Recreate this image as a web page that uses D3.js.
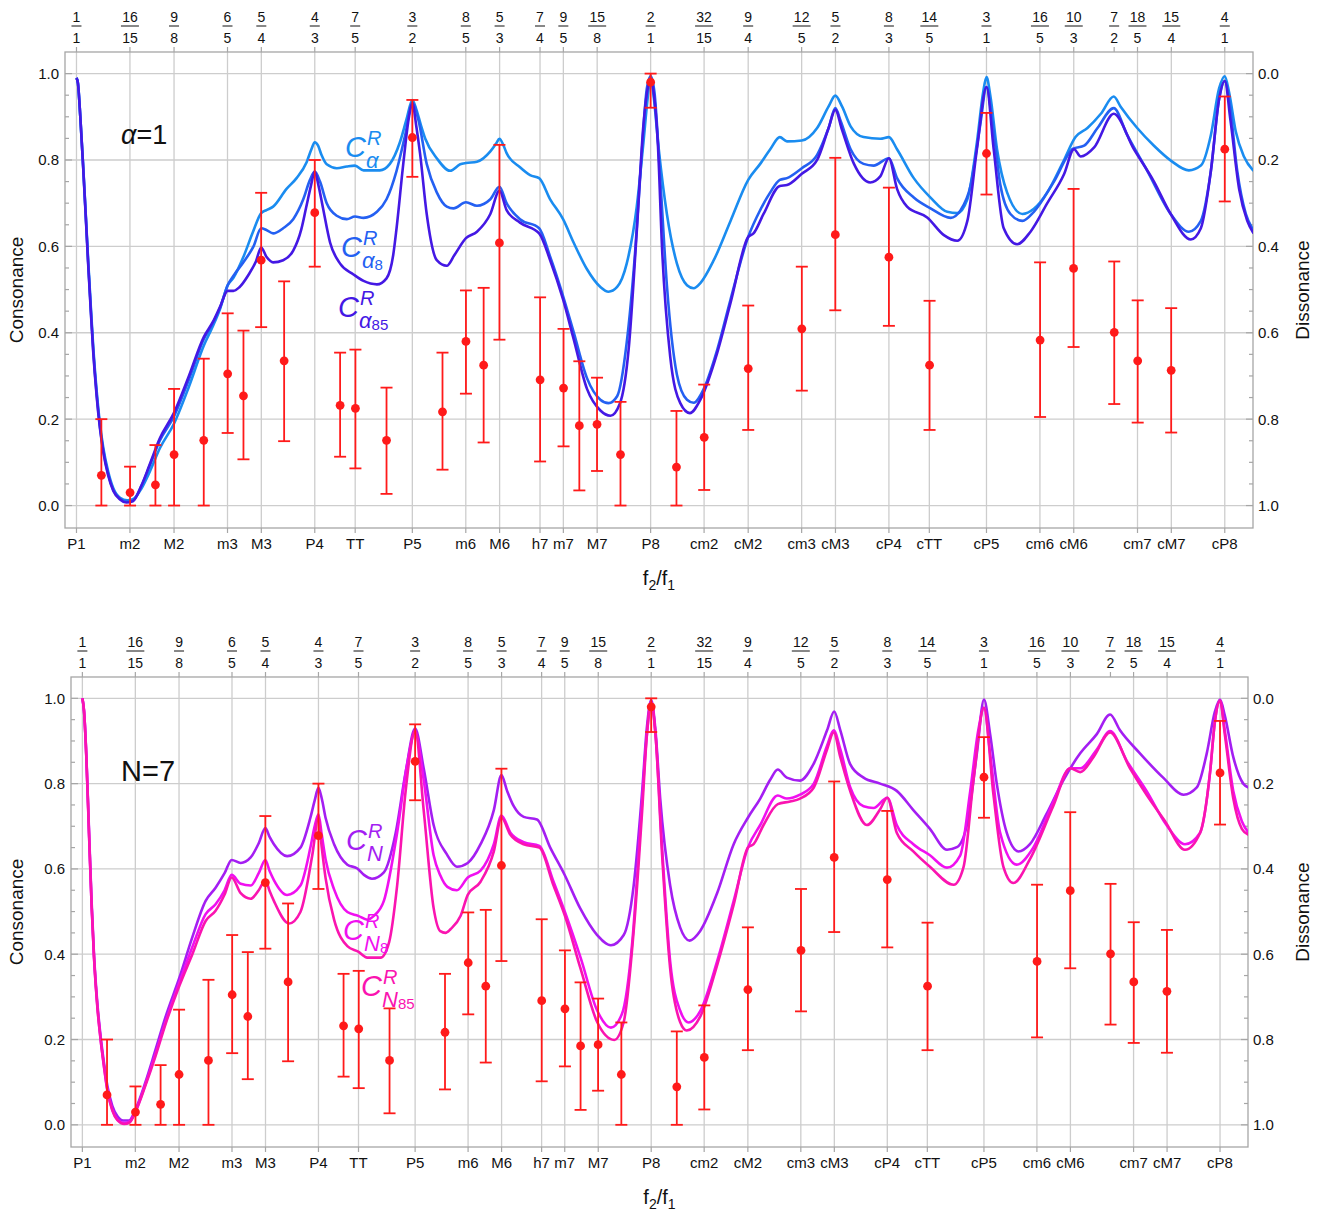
<!DOCTYPE html>
<html>
<head>
<meta charset="utf-8">
<script src="https://cdn.jsdelivr.net/npm/d3@7"></script>
<style>
  body { margin: 0; background: #fff; }
  svg { display: block; }
  text { font-family: "Liberation Sans", Arial, sans-serif; fill: #111; }
</style>
</head>
<body>
<svg id="chart" width="1322" height="1216"></svg>
<script>
// Frequency ratios marked along the top, and interval names along the bottom
const ratioTicks = ["1/1","16/15","9/8","6/5","5/4","4/3","7/5","3/2","8/5","5/3","7/4","9/5","15/8","2/1",
  "32/15","9/4","12/5","5/2","8/3","14/5","3/1","16/5","10/3","7/2","18/5","15/4","4/1"];
const intervalNames = ["P1","m2","M2","m3","M3","P4","TT","P5","m6","M6","h7","m7","M7","P8",
  "cm2","cM2","cm3","cM3","cP4","cTT","cP5","cm6","cM6","","cm7","cM7","cP8"];

// Experimental ratings (interval size in cents, mean, lower and upper bar)
const expCents = [52,112,165,204,266,316,349,386,434,498,551,583,648,702,765,814,851,884,969,1018,1051,1088,1137,1200,
  1254,1312,1404,1516,1586,1698,1783,1902,2014,2084,2169,2218,2288,2400];
const expMean = [0.070,0.030,0.048,0.118,0.151,0.305,0.254,0.568,0.335,0.678,0.232,0.225,0.151,0.852,0.217,0.380,0.325,
  0.608,0.291,0.272,0.185,0.188,0.118,0.980,0.089,0.158,0.317,0.409,0.627,0.575,0.325,0.815,0.383,0.549,0.401,0.335,0.313,0.825];
const expLow = [0,0,0,0,0,0.168,0.107,0.413,0.149,0.553,0.113,0.086,0.027,0.761,0.083,0.259,0.146,0.384,0.102,0.137,
  0.035,0.080,0,0.921,0,0.036,0.175,0.266,0.452,0.416,0.175,0.720,0.205,0.367,0.235,0.192,0.169,0.704];
const expHigh = [0.200,0.090,0.140,0.270,0.340,0.445,0.405,0.724,0.519,0.800,0.354,0.361,0.273,0.939,0.354,0.498,0.504,
  0.835,0.482,0.409,0.334,0.296,0.240,1.0,0.219,0.280,0.463,0.553,0.805,0.736,0.474,0.909,0.563,0.733,0.565,0.475,0.457,0.947];

// Model curves, top panel (alpha = 1): [cents, consonance]
const cAlpha = [[0,0.99],[3,0.978],[8,0.90],[14,0.786],[19.5,0.672],[24.5,0.566],[30,0.46],[35,0.368],[42,0.268],[49,0.19],
  [56,0.134],[66,0.08],[77,0.04],[91,0.018],[106,0.012],[120,0.016],[136,0.04],[153,0.078],[174,0.132],[204,0.19],[235,0.275],
  [266,0.37],[285,0.415],[300,0.455],[316,0.51],[328,0.527],[349,0.576],[369,0.634],[386,0.677],[397,0.684],[411,0.692],
  [439,0.733],[460,0.758],[481,0.795],[491,0.825],[498,0.841],[505,0.833],[512,0.812],[523,0.79],[544,0.781],[565,0.785],
  [582,0.787],[600,0.776],[634,0.776],[655,0.791],[676,0.841],[690,0.895],[702,0.939],[711,0.915],[720,0.88],[729,0.849],
  [753,0.804],[781,0.775],[802,0.79],[814,0.793],[837,0.796],[865,0.82],[877,0.838],[884,0.849],[892,0.835],[899,0.816],
  [927,0.783],[948,0.765],[967,0.758],[990,0.709],[1017,0.663],[1039,0.609],[1067,0.547],[1095,0.506],[1112,0.495],
  [1130,0.506],[1150,0.56],[1171,0.692],[1185,0.841],[1194,0.945],[1200,0.994],[1206,0.95],[1217,0.825],[1234,0.675],
  [1255,0.56],[1276,0.51],[1290,0.503],[1304,0.515],[1332,0.568],[1367,0.659],[1404,0.754],[1429,0.791],[1450,0.825],
  [1470,0.853],[1485,0.843],[1516,0.845],[1548,0.874],[1572,0.924],[1586,0.949],[1600,0.924],[1618,0.878],[1645,0.853],
  [1680,0.849],[1698,0.853],[1715,0.825],[1750,0.758],[1785,0.713],[1820,0.68],[1841,0.677],[1862,0.709],[1882,0.841],
  [1895,0.957],[1902,0.992],[1910,0.949],[1924,0.825],[1945,0.725],[1977,0.675],[2001,0.687],[2029,0.725],[2064,0.80],
  [2088,0.853],[2113,0.874],[2141,0.907],[2168,0.947],[2182,0.924],[2217,0.874],[2252,0.833],[2288,0.798],[2325,0.776],
  [2350,0.787],[2371,0.858],[2388,0.965],[2400,0.994],[2409,0.957],[2423,0.866],[2440,0.808],[2460,0.775]];

const cAlpha8 = [[0,0.99],[3,0.978],[8,0.90],[14,0.784],[19.5,0.669],[24.5,0.561],[30,0.453],[35,0.36],[42,0.26],[49,0.183],
  [56,0.128],[66,0.074],[77,0.036],[91,0.016],[104,0.009],[118,0.012],[136,0.046],[153,0.092],[174,0.15],[204,0.207],
  [235,0.292],[266,0.385],[285,0.422],[300,0.458],[316,0.51],[330,0.535],[350,0.565],[370,0.60],[386,0.642],[397,0.638],
  [411,0.63],[432,0.642],[453,0.663],[474,0.709],[488,0.754],[498,0.773],[509,0.75],[523,0.70],[544,0.671],[565,0.663],
  [582,0.669],[600,0.666],[628,0.68],[648,0.709],[669,0.775],[687,0.858],[702,0.932],[715,0.891],[732,0.791],[753,0.725],
  [774,0.692],[788,0.688],[814,0.702],[837,0.694],[865,0.709],[884,0.738],[899,0.70],[927,0.663],[967,0.642],[990,0.576],
  [1017,0.485],[1039,0.402],[1067,0.295],[1095,0.245],[1112,0.237],[1130,0.253],[1150,0.377],[1168,0.593],[1182,0.825],
  [1192,0.965],[1200,0.994],[1208,0.957],[1220,0.758],[1234,0.51],[1255,0.303],[1276,0.245],[1290,0.238],[1311,0.27],
  [1339,0.36],[1367,0.477],[1404,0.622],[1429,0.684],[1450,0.725],[1470,0.754],[1485,0.758],[1516,0.781],[1548,0.812],
  [1572,0.874],[1586,0.92],[1597,0.891],[1618,0.825],[1645,0.791],[1666,0.787],[1698,0.804],[1715,0.758],[1750,0.713],
  [1785,0.688],[1827,0.666],[1848,0.684],[1869,0.742],[1889,0.882],[1902,0.969],[1914,0.891],[1931,0.742],[1952,0.675],
  [1977,0.659],[2001,0.68],[2043,0.75],[2083,0.826],[2106,0.833],[2134,0.874],[2168,0.92],[2196,0.858],[2238,0.775],
  [2287,0.675],[2325,0.634],[2350,0.659],[2371,0.775],[2388,0.94],[2400,0.983],[2411,0.924],[2426,0.775],[2444,0.675],
  [2460,0.638]];

const cAlpha85 = [[0,0.99],[3,0.978],[8,0.90],[14,0.782],[19.5,0.666],[24.5,0.557],[30,0.448],[35,0.355],[42,0.255],
  [49,0.179],[56,0.124],[66,0.071],[77,0.034],[91,0.014],[104,0.007],[118,0.01],[136,0.047],[153,0.095],[174,0.155],
  [204,0.215],[235,0.30],[266,0.39],[285,0.425],[300,0.46],[316,0.497],[328,0.497],[340,0.505],[360,0.535],[375,0.565],
  [386,0.597],[397,0.576],[411,0.563],[432,0.568],[453,0.59],[470,0.64],[480,0.69],[490,0.74],[498,0.773],[506,0.74],
  [515,0.69],[530,0.609],[551,0.56],[579,0.535],[600,0.52],[628,0.512],[648,0.526],[662,0.58],[669,0.642],[683,0.791],
  [695,0.9],[702,0.932],[710,0.88],[718,0.816],[732,0.675],[753,0.568],[774,0.555],[790,0.58],[814,0.619],[837,0.634],
  [865,0.675],[884,0.729],[899,0.684],[927,0.655],[967,0.63],[990,0.568],[1017,0.477],[1039,0.386],[1067,0.27],
  [1095,0.22],[1116,0.208],[1136,0.237],[1154,0.361],[1171,0.634],[1185,0.882],[1193,0.96],[1200,0.986],[1207,0.95],
  [1215,0.84],[1224,0.593],[1241,0.344],[1262,0.237],[1282,0.214],[1304,0.245],[1339,0.353],[1367,0.469],[1404,0.622],
  [1415,0.63],[1436,0.675],[1470,0.74],[1485,0.742],[1516,0.768],[1548,0.80],[1572,0.874],[1586,0.916],[1600,0.87],
  [1625,0.791],[1659,0.748],[1680,0.762],[1698,0.804],[1715,0.733],[1736,0.692],[1778,0.667],[1813,0.626],[1841,0.613],
  [1862,0.659],[1882,0.825],[1902,0.969],[1917,0.825],[1938,0.642],[1966,0.605],[1994,0.634],[2029,0.70],[2064,0.767],
  [2085,0.825],[2099,0.808],[2127,0.829],[2168,0.907],[2210,0.825],[2252,0.75],[2287,0.675],[2329,0.616],[2350,0.642],
  [2371,0.775],[2388,0.94],[2400,0.983],[2412,0.891],[2430,0.733],[2447,0.659],[2460,0.63]];

// Model curves, bottom panel (N = 7)
const cN = [[0,1.0],[3.5,0.97],[8.4,0.865],[14,0.69],[19.6,0.52],[24.5,0.40],[31.6,0.285],[38.6,0.206],[45.6,0.145],
  [52.6,0.092],[63,0.045],[74,0.02],[86,0.01],[98,0.01],[112,0.036],[133,0.10],[154,0.175],[176,0.255],[205,0.346],
  [232,0.44],[260,0.525],[281,0.556],[300,0.59],[315,0.621],[334,0.614],[355,0.627],[372,0.66],[386,0.696],[395,0.675],
  [404,0.658],[432,0.63],[460,0.65],[481,0.72],[490,0.76],[498,0.79],[505,0.765],[513,0.72],[531,0.658],[559,0.61],
  [580,0.601],[594,0.586],[611,0.577],[636,0.592],[661,0.685],[682,0.827],[702,0.929],[720,0.836],[741,0.703],[769,0.634],
  [790,0.605],[813,0.614],[840,0.658],[868,0.738],[884,0.82],[896,0.783],[910,0.747],[931,0.722],[959,0.716],[987,0.65],
  [1017,0.587],[1050,0.508],[1086,0.445],[1115,0.421],[1142,0.445],[1163,0.561],[1181,0.783],[1191,0.933],[1200,0.996],
  [1209,0.925],[1219,0.765],[1240,0.561],[1261,0.463],[1281,0.432],[1303,0.454],[1339,0.543],[1374,0.658],[1404,0.72],
  [1430,0.765],[1451,0.809],[1467,0.833],[1486,0.814],[1514,0.807],[1542,0.845],[1571,0.925],[1586,0.969],[1599,0.925],
  [1620,0.845],[1648,0.814],[1683,0.80],[1718,0.783],[1753,0.738],[1788,0.694],[1824,0.645],[1845,0.651],[1866,0.703],
  [1887,0.871],[1902,0.997],[1915,0.916],[1929,0.80],[1950,0.685],[1975,0.641],[1999,0.658],[2034,0.729],[2070,0.809],
  [2105,0.871],[2140,0.916],[2168,0.962],[2189,0.925],[2231,0.871],[2280,0.814],[2323,0.774],[2351,0.791],[2372,0.871],
  [2389,0.968],[2400,0.997],[2410,0.96],[2428,0.862],[2449,0.80],[2460,0.791]];

const cN8 = [[0,1.0],[3.5,0.97],[8.4,0.862],[14,0.684],[19.6,0.512],[24.5,0.394],[31.6,0.278],[38.6,0.2],[45.6,0.138],
  [52.6,0.083],[63,0.036],[74,0.012],[88,0.004],[100,0.008],[112,0.032],[133,0.095],[154,0.165],[176,0.243],[205,0.335],
  [232,0.417],[260,0.494],[281,0.517],[300,0.55],[315,0.586],[334,0.565],[355,0.561],[372,0.59],[386,0.621],[395,0.595],
  [404,0.574],[432,0.539],[460,0.561],[481,0.65],[490,0.70],[498,0.728],[505,0.68],[513,0.623],[531,0.552],[559,0.499],
  [582,0.49],[601,0.481],[615,0.49],[636,0.525],[664,0.685],[685,0.845],[702,0.92],[720,0.809],[741,0.632],[755,0.585],
  [770,0.558],[790,0.55],[813,0.58],[840,0.596],[868,0.658],[884,0.725],[903,0.685],[931,0.663],[964,0.654],[994,0.57],
  [1018,0.499],[1051,0.392],[1086,0.268],[1115,0.228],[1138,0.259],[1160,0.428],[1177,0.694],[1191,0.916],[1200,0.991],
  [1209,0.916],[1223,0.65],[1240,0.383],[1261,0.268],[1279,0.24],[1304,0.268],[1339,0.383],[1374,0.525],[1404,0.65],
  [1430,0.703],[1467,0.772],[1486,0.765],[1514,0.774],[1543,0.80],[1571,0.889],[1585,0.925],[1599,0.88],[1620,0.791],
  [1648,0.747],[1669,0.743],[1698,0.767],[1718,0.703],[1753,0.658],[1788,0.632],[1824,0.603],[1852,0.632],[1873,0.782],
  [1890,0.925],[1902,0.978],[1915,0.871],[1936,0.685],[1971,0.61],[2006,0.65],[2048,0.756],[2084,0.836],[2105,0.836],
  [2140,0.88],[2168,0.923],[2203,0.854],[2245,0.783],[2287,0.703],[2326,0.658],[2358,0.685],[2379,0.827],[2389,0.944],
  [2400,0.995],[2410,0.925],[2428,0.782],[2446,0.712],[2460,0.685]];

const cN85 = [[0,1.0],[3.5,0.97],[8.4,0.861],[14,0.682],[19.6,0.51],[24.5,0.393],[31.6,0.276],[38.6,0.198],[45.6,0.136],
  [52.6,0.081],[63,0.034],[74,0.011],[88,0.002],[100,0.006],[112,0.03],[133,0.092],[154,0.16],[176,0.238],[205,0.327],
  [232,0.40],[260,0.478],[281,0.502],[300,0.54],[315,0.58],[334,0.543],[355,0.53],[372,0.55],[386,0.574],[395,0.548],
  [404,0.525],[436,0.472],[460,0.499],[485,0.632],[498,0.72],[505,0.65],[513,0.579],[531,0.481],[559,0.419],[582,0.406],
  [601,0.392],[629,0.392],[647,0.428],[664,0.561],[682,0.783],[702,0.925],[720,0.738],[741,0.508],[755,0.454],[766,0.45],
  [777,0.459],[798,0.49],[813,0.539],[840,0.57],[868,0.641],[884,0.72],[903,0.68],[931,0.658],[964,0.65],[994,0.561],
  [1018,0.49],[1051,0.366],[1086,0.241],[1122,0.199],[1142,0.241],[1163,0.454],[1181,0.738],[1191,0.916],[1200,0.991],
  [1209,0.916],[1223,0.632],[1240,0.366],[1261,0.241],[1275,0.221],[1304,0.255],[1339,0.374],[1374,0.516],[1404,0.65],
  [1416,0.658],[1437,0.703],[1467,0.752],[1493,0.758],[1514,0.765],[1543,0.791],[1571,0.88],[1585,0.92],[1599,0.862],
  [1620,0.782],[1655,0.703],[1683,0.74],[1698,0.767],[1718,0.685],[1753,0.641],[1788,0.605],[1838,0.563],[1859,0.605],
  [1880,0.809],[1902,0.978],[1922,0.774],[1943,0.605],[1964,0.567],[1999,0.623],[2048,0.747],[2084,0.836],[2105,0.827],
  [2133,0.862],[2168,0.92],[2210,0.836],[2245,0.774],[2284,0.712],[2326,0.645],[2358,0.685],[2379,0.827],[2389,0.944],
  [2400,0.995],[2410,0.916],[2428,0.765],[2446,0.694],[2460,0.68]];

const svg = d3.select("#chart");

// interval size in cents for a ratio string such as "16/15"
function ratioCents(r) {
  const [n, d] = r.split("/").map(Number);
  return 1200 * Math.log2(n / d);
}

function drawPanel(p) {
  const g = svg.append("g");
  const x = d3.scaleLinear().domain([-24, 2459]).range([p.x0, p.x1]);
  const y = d3.scaleLinear().domain([-0.052, 1.05]).range([p.y1, p.y0]);

  const clipId = "clip" + p.id;
  g.append("clipPath").attr("id", clipId)
    .append("rect").attr("x", p.x0).attr("y", p.y0).attr("width", p.x1 - p.x0).attr("height", p.y1 - p.y0);

  // grid lines
  const yMajor = d3.range(0, 1.01, 0.2);
  g.selectAll(".hgrid").data(yMajor).enter().append("line")
    .attr("x1", p.x0).attr("x2", p.x1)
    .attr("y1", d => y(d)).attr("y2", d => y(d))
    .attr("stroke", "#cdcdcd").attr("stroke-width", 1.3);

  const named = ratioTicks.map((r, i) => ({ c: ratioCents(r), r: r, name: intervalNames[i] }));
  g.selectAll(".vgrid").data(named.filter(d => d.name)).enter().append("line")
    .attr("x1", d => x(d.c)).attr("x2", d => x(d.c))
    .attr("y1", p.y0).attr("y2", p.y1)
    .attr("stroke", "#cdcdcd").attr("stroke-width", 1.3);

  // frame
  g.append("rect").attr("x", p.x0).attr("y", p.y0)
    .attr("width", p.x1 - p.x0).attr("height", p.y1 - p.y0)
    .attr("fill", "none").attr("stroke", "#a6a6a6").attr("stroke-width", 1.3);

  // ticks on the frame
  g.selectAll(".ttick").data(named).enter().append("line")
    .attr("x1", d => x(d.c)).attr("x2", d => x(d.c))
    .attr("y1", p.y0).attr("y2", p.y0 - 5)
    .attr("stroke", "#a6a6a6").attr("stroke-width", 1.2);
  g.selectAll(".btick").data(named.filter(d => d.name)).enter().append("line")
    .attr("x1", d => x(d.c)).attr("x2", d => x(d.c))
    .attr("y1", p.y1).attr("y2", p.y1 + 5)
    .attr("stroke", "#a6a6a6").attr("stroke-width", 1.2);

  const yTicks = d3.range(0, 21).map(i => i * 0.05);
  [[p.x0, 1], [p.x1, -1]].forEach(([edge, dir]) => {
    g.selectAll(null).data(yTicks).enter().append("line")
      .attr("x1", edge).attr("x2", (d, i) => edge + dir * (i % 4 === 0 ? 7 : 4))
      .attr("y1", d => y(d)).attr("y2", d => y(d))
      .attr("stroke", "#a6a6a6").attr("stroke-width", 1.2);
  });

  // tick labels
  const fmt = d3.format(".1f");
  g.selectAll(".ylab").data(yMajor).enter().append("text")
    .attr("x", p.x0 - 6).attr("y", d => y(d)).attr("dy", "0.36em")
    .attr("text-anchor", "end").style("font-size", "15px")
    .text(d => fmt(d));
  g.selectAll(".ylab2").data(yMajor).enter().append("text")
    .attr("x", p.x1 + 5).attr("y", d => y(d)).attr("dy", "0.36em")
    .attr("text-anchor", "start").style("font-size", "15px")
    .text(d => fmt(1 - d));

  const frac = g.selectAll(".frac").data(named).enter().append("g");
  frac.append("text").attr("x", d => x(d.c)).attr("y", p.y0 - 30)
    .attr("text-anchor", "middle").style("font-size", "14px").text(d => d.r.split("/")[0]);
  frac.append("text").attr("x", d => x(d.c)).attr("y", p.y0 - 9)
    .attr("text-anchor", "middle").style("font-size", "14px").text(d => d.r.split("/")[1]);
  frac.append("line")
    .attr("x1", d => x(d.c) - (d.r.split("/")[0].length > 1 ? 9 : 5))
    .attr("x2", d => x(d.c) + (d.r.split("/")[0].length > 1 ? 9 : 5))
    .attr("y1", p.y0 - 26).attr("y2", p.y0 - 26)
    .attr("stroke", "#111").attr("stroke-width", 1);

  g.selectAll(".xname").data(named.filter(d => d.name)).enter().append("text")
    .attr("x", d => x(d.c)).attr("y", p.y1 + 21)
    .attr("text-anchor", "middle").style("font-size", "15px")
    .text(d => d.name);

  // axis titles
  const xt = g.append("text").attr("x", (p.x0 + p.x1) / 2).attr("y", p.y1 + 57)
    .attr("text-anchor", "middle").style("font-size", "20px");
  xt.append("tspan").text("f");
  xt.append("tspan").attr("dy", 5).style("font-size", "14px").text("2");
  xt.append("tspan").attr("dy", -5).text("/f");
  xt.append("tspan").attr("dy", 5).style("font-size", "14px").text("1");

  const ym = (p.y0 + p.y1) / 2;
  g.append("text").attr("transform", `translate(23,${ym}) rotate(-90)`)
    .attr("text-anchor", "middle").style("font-size", "19px").text("Consonance");
  g.append("text").attr("transform", `translate(1309,${ym}) rotate(-90)`)
    .attr("text-anchor", "middle").style("font-size", "19px").text("Dissonance");

  // model curves
  const line = d3.line().x(d => x(d[0])).y(d => y(d[1])).curve(d3.curveMonotoneX);
  const cg = g.append("g").attr("clip-path", `url(#${clipId})`);
  p.curves.forEach(c => {
    cg.append("path").attr("d", line(c.data))
      .attr("fill", "none").attr("stroke", c.color)
      .attr("stroke-width", 2.6).attr("stroke-linejoin", "round");
  });

  // experimental error bars
  const red = "#ff1a1a";
  const bars = g.selectAll(".bar").data(expCents.map((c, i) => ({ c, m: expMean[i], lo: expLow[i], hi: expHigh[i] })))
    .enter().append("g");
  bars.append("line").attr("x1", d => x(d.c)).attr("x2", d => x(d.c))
    .attr("y1", d => y(d.lo)).attr("y2", d => y(d.hi))
    .attr("stroke", red).attr("stroke-width", 1.8);
  ["lo", "hi"].forEach(k => {
    bars.append("line").attr("x1", d => x(d.c) - 6).attr("x2", d => x(d.c) + 6)
      .attr("y1", d => y(d[k])).attr("y2", d => y(d[k]))
      .attr("stroke", red).attr("stroke-width", 1.8);
  });
  bars.append("circle").attr("cx", d => x(d.c)).attr("cy", d => y(d.m))
    .attr("r", 4.4).attr("fill", red);

  // panel note
  const note = g.append("text").attr("x", p.note.x).attr("y", p.note.y).style("font-size", p.note.size + "px");
  note.append("tspan").style("font-style", p.note.italic ? "italic" : "normal").text(p.note.sym);
  note.append("tspan").text(p.note.rest);

  // curve labels: C with superscript R and a subscript
  p.curves.forEach(c => {
    const L = c.label;
    const t = g.append("g").style("font-style", "italic");
    t.append("text").attr("x", L.x).attr("y", L.y).style("font-size", "29px")
      .style("fill", c.color).text("C");
    t.append("text").attr("x", L.x + 22).attr("y", L.y - 12).style("font-size", "20px")
      .style("fill", c.color).text("R");
    const s = t.append("text").attr("x", L.x + 21).attr("y", L.y + 11).style("font-size", "22px")
      .style("fill", c.color);
    s.append("tspan").text(L.sub);
    if (L.idx) s.append("tspan").attr("dy", 2).style("font-size", "15px").style("font-style", "normal").text(L.idx);
  });
}

drawPanel({
  id: "a", x0: 65, x1: 1253, y0: 52, y1: 528,
  note: { x: 121, y: 144, size: 27, sym: "\u03b1", italic: true, rest: "=1" },
  curves: [
    { data: cAlpha, color: "#1a8cf0", label: { x: 345, y: 157, sub: "\u03b1", idx: "" } },
    { data: cAlpha8, color: "#2460f2", label: { x: 341, y: 257, sub: "\u03b1", idx: "8" } },
    { data: cAlpha85, color: "#4418e4", label: { x: 338, y: 317, sub: "\u03b1", idx: "85" } }
  ]
});

drawPanel({
  id: "b", x0: 71, x1: 1248, y0: 677, y1: 1147,
  note: { x: 121, y: 781, size: 29, sym: "N", italic: false, rest: "=7" },
  curves: [
    { data: cN, color: "#a41ef2", label: { x: 346, y: 850, sub: "N", idx: "" } },
    { data: cN8, color: "#f010f0", label: { x: 343, y: 940, sub: "N", idx: "8" } },
    { data: cN85, color: "#fa14b0", label: { x: 361, y: 996, sub: "N", idx: "85" } }
  ]
});
</script>
</body>
</html>
